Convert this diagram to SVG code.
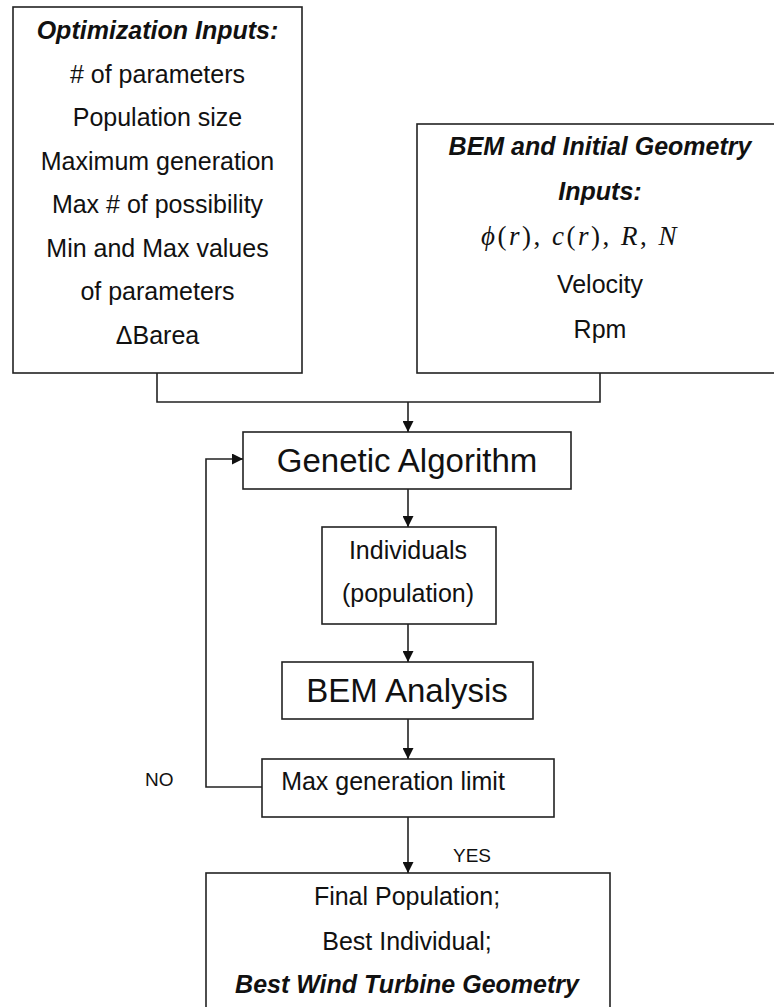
<svg xmlns="http://www.w3.org/2000/svg" width="774" height="1007" viewBox="0 0 774 1007">
<style>
.box{fill:#fff;stroke:#222;stroke-width:1.6}
.t{font-family:"Liberation Sans",Arial,sans-serif;font-size:25px;fill:#111;text-anchor:middle}
.bi{font-weight:bold;font-style:italic}
.big{font-size:33px}
.lbl{font-family:"Liberation Sans",Arial,sans-serif;font-size:19px;fill:#111}
.m{font-family:"Liberation Serif","Times New Roman",serif;font-size:27px;letter-spacing:2.5px;fill:#111;text-anchor:middle}
.c{fill:none;stroke:#222;stroke-width:1.6}
</style>
<defs>
<marker id="ah" viewBox="0 0 10 10" refX="10" refY="5" markerWidth="11" markerHeight="11" markerUnits="userSpaceOnUse" orient="auto">
<path d="M0,0 L10,5 L0,10 z" fill="#111"/>
</marker>
</defs>
<rect width="774" height="1007" fill="#fff"/>
<g id="opt-inputs">
<rect class="box" x="13" y="7" width="289" height="366"/>
<text class="t bi" x="157.5" y="39">Optimization Inputs:</text>
<text class="t" x="157.5" y="83"># of parameters</text>
<text class="t" x="157.5" y="126">Population size</text>
<text class="t" x="157.5" y="170">Maximum generation</text>
<text class="t" x="157.5" y="213">Max # of possibility</text>
<text class="t" x="157.5" y="257">Min and Max values</text>
<text class="t" x="157.5" y="300">of parameters</text>
<text class="t" x="157.5" y="344">ΔBarea</text>
</g>
<g id="bem-inputs">
<rect class="box" x="417" y="124" width="366" height="249"/>
<text class="t bi" x="600" y="155">BEM and Initial Geometry</text>
<text class="t bi" x="600" y="200">Inputs:</text>
<text class="m" x="580" y="245"><tspan font-style="italic">ϕ</tspan>(<tspan font-style="italic">r</tspan>), <tspan font-style="italic">c</tspan>(<tspan font-style="italic">r</tspan>), <tspan font-style="italic">R</tspan>, <tspan font-style="italic">N</tspan></text>
<text class="t" x="600" y="293">Velocity</text>
<text class="t" x="600" y="338">Rpm</text>
</g>
<g id="ga">
<rect class="box" x="243" y="432" width="328" height="57"/>
<text class="t big" x="407" y="472">Genetic Algorithm</text>
</g>
<g id="individuals">
<rect class="box" x="322" y="527" width="174" height="97"/>
<text class="t" x="408" y="559">Individuals</text>
<text class="t" x="408" y="602">(population)</text>
</g>
<g id="bem-analysis">
<rect class="box" x="282" y="662" width="251" height="57"/>
<text class="t big" x="407" y="702">BEM Analysis</text>
</g>
<g id="max-gen">
<rect class="box" x="262" y="759" width="292" height="58"/>
<text class="t" x="393" y="790">Max generation limit</text>
</g>
<g id="final">
<rect class="box" x="206" y="873" width="404" height="140"/>
<text class="t" x="407" y="905">Final Population;</text>
<text class="t" x="407" y="950">Best Individual;</text>
<text class="t bi" x="407" y="993">Best Wind Turbine Geometry</text>
</g>
<g id="connectors">
<path class="c" d="M157,373 V402 H600 V373"/>
<path class="c" d="M408,402 V432" marker-end="url(#ah)"/>
<path class="c" d="M408,489 V527" marker-end="url(#ah)"/>
<path class="c" d="M408,624 V662" marker-end="url(#ah)"/>
<path class="c" d="M408,719 V759" marker-end="url(#ah)"/>
<path class="c" d="M408,817 V873" marker-end="url(#ah)"/>
<path class="c" d="M262,787 H206 V459 H243" marker-end="url(#ah)"/>
<text class="lbl" x="145" y="786">NO</text>
<text class="lbl" x="453" y="862">YES</text>
</g>
</svg>
